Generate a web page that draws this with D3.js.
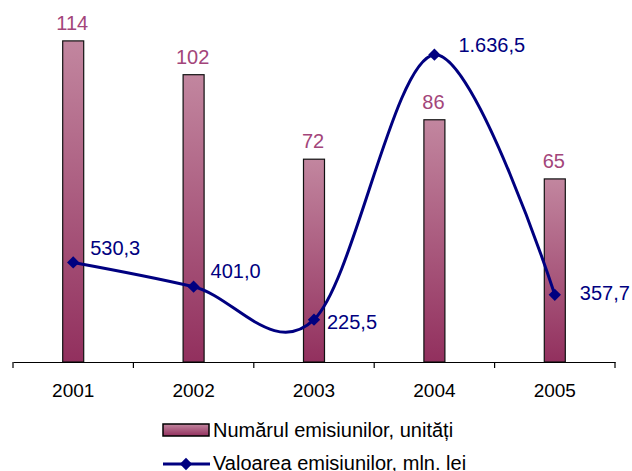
<!DOCTYPE html>
<html><head><meta charset="utf-8">
<script src="https://cdn.jsdelivr.net/npm/d3@7"></script>
<style>html,body{margin:0;padding:0;background:#fff;}svg{display:block;}</style>
</head><body>
<svg id="c" width="632" height="471"></svg>
<script>
const years = ["2001","2002","2003","2004","2005"];
const emissionCount = [114, 102, 72, 86, 65];
const emissionValue = [530.3, 401.0, 225.5, 1636.5, 357.7];
const countLabels = ["114","102","72","86","65"];
const valueLabels = ["530,3","401,0","225,5","1.636,5","357,7"];
const legendLabels = ["Numărul emisiunilor, unități", "Valoarea emisiunilor, mln. lei"];

// label placement offsets (layout only)
const valueLabelOffsets = [[17,-7],[17,-9],[13,9],[24,-3],[25,5]];

const svg = d3.select("#c");
const font = "'Liberation Sans', Arial, sans-serif";
const fs = 19;
const fsLab = 20;

const x = d3.scaleBand().domain(years).range([13, 615]).padding(0);
const yBar = d3.scaleLinear().domain([0,120]).range([362, 24]);
const yLine = d3.scaleLinear().domain([0,1800]).range([362, 24]);
const barW = 21;
const cx = d => x(d) + x.bandwidth()/2;

const defs = svg.append("defs");
const g = defs.append("linearGradient").attr("id","barGrad").attr("x1",0).attr("y1",0).attr("x2",0).attr("y2",1);
g.append("stop").attr("offset","0%").attr("stop-color","#c2869f");
g.append("stop").attr("offset","100%").attr("stop-color","#92305e");
const lg = defs.append("linearGradient").attr("id","legGrad").attr("x1",0).attr("y1",0).attr("x2",0).attr("y2",1);
lg.append("stop").attr("offset","0%").attr("stop-color","#c2869f");
lg.append("stop").attr("offset","100%").attr("stop-color","#92305e");

// bars
svg.append("g").selectAll("rect").data(years).join("rect")
  .attr("x", d => cx(d) - barW/2)
  .attr("y", (d,i) => yBar(emissionCount[i]))
  .attr("width", barW)
  .attr("height", (d,i) => yBar(0) - yBar(emissionCount[i]))
  .attr("fill","url(#barGrad)")
  .attr("stroke","#111").attr("stroke-width",1.2);

// axis
const axis = d3.axisBottom(x).tickSize(0).tickPadding(0);
const ax = svg.append("g").attr("transform","translate(0,362)").call(axis);
ax.select(".domain").attr("stroke","#000").attr("stroke-width",1.2);
ax.selectAll(".tick text").attr("font-family",font).attr("font-size",fs).attr("fill","#000").attr("dy",null).attr("y",35);
ax.append("g").selectAll("line").data(d3.range(years.length+1)).join("line")
  .attr("x1", i => 13 + i*x.bandwidth()).attr("x2", i => 13 + i*x.bandwidth())
  .attr("y1",0).attr("y2",6).attr("stroke","#000").attr("stroke-width",1.2);

// bar labels
svg.append("g").selectAll("text").data(years).join("text")
  .attr("x", d => cx(d) - 1)
  .attr("y", (d,i) => yBar(emissionCount[i]) - 11)
  .attr("text-anchor","middle")
  .attr("font-family",font).attr("font-size",fsLab).attr("fill","#a3457a")
  .text((d,i) => countLabels[i]);

// line
const line = d3.line().x((d,i) => cx(years[i])).y(d => yLine(d)).curve(d3.curveCardinal.tension(0));
svg.append("path").datum(emissionValue).attr("d", line)
  .attr("fill","none").attr("stroke","#000080").attr("stroke-width",3);

const diamond = d3.symbol().type(d3.symbolSquare).size(76);
svg.append("g").selectAll("path").data(emissionValue).join("path")
  .attr("d", diamond)
  .attr("transform", (d,i) => `translate(${cx(years[i])},${yLine(d)}) rotate(45)`)
  .attr("fill","#000080");

svg.append("g").selectAll("text").data(emissionValue).join("text")
  .attr("x", (d,i) => cx(years[i]) + valueLabelOffsets[i][0])
  .attr("y", (d,i) => yLine(d) + valueLabelOffsets[i][1])
  .attr("font-family",font).attr("font-size",fsLab).attr("fill","#000080")
  .text((d,i) => valueLabels[i]);

// legend
const leg = svg.append("g");
leg.append("rect").attr("x",163).attr("y",424).attr("width",46).attr("height",12)
  .attr("fill","url(#legGrad)").attr("stroke","#000").attr("stroke-width",1.5);
leg.append("text").attr("x",213).attr("y",437).attr("font-family",font).attr("font-size",fsLab).attr("fill","#000").text(legendLabels[0]);
leg.append("line").attr("x1",163).attr("x2",210).attr("y1",464).attr("y2",464).attr("stroke","#000080").attr("stroke-width",3);
leg.append("path").attr("d",diamond).attr("transform","translate(186,464) rotate(45)").attr("fill","#000080");
leg.append("text").attr("x",213).attr("y",470).attr("font-family",font).attr("font-size",fsLab).attr("fill","#000").text(legendLabels[1]);
</script>
</body></html>
